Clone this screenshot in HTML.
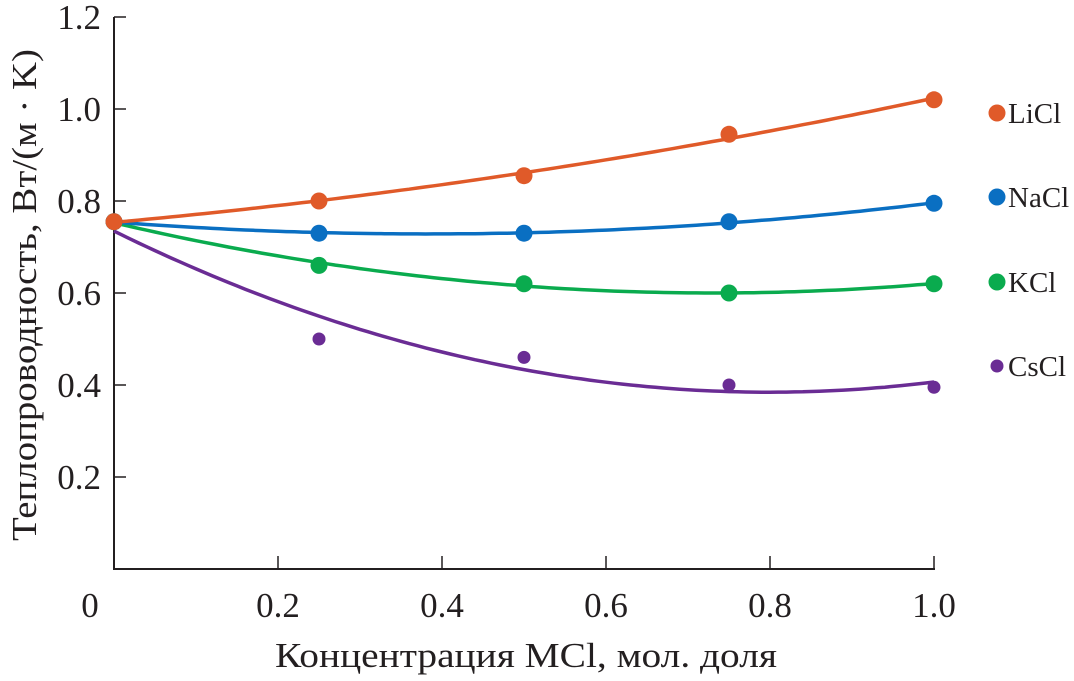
<!DOCTYPE html>
<html><head><meta charset="utf-8">
<style>
html,body{margin:0;padding:0;background:#fff;}
svg text{font-family:"Liberation Serif",serif;fill:#231f20;}
</style></head>
<body>
<svg id="chart" width="1074" height="676" viewBox="0 0 1074 676" xmlns="http://www.w3.org/2000/svg">
<g id="axes"></g>
<g id="curves"></g>
<g id="points"></g>
<g id="legend"></g>
<text x="275" y="667" font-size="35" textLength="502" lengthAdjust="spacingAndGlyphs">Концентрация MCl, мол. доля</text>
<text transform="translate(36,541) rotate(-90)" font-size="35" textLength="492" lengthAdjust="spacingAndGlyphs">Теплопроводность, Вт/(м · K)</text>
</svg>
<script>
const xCats = [0, 0.25, 0.5, 0.75, 1.0];
const seriesNames = ["LiCl", "NaCl", "KCl", "CsCl"];
const liclValues = [0.755, 0.80, 0.855, 0.945, 1.02];
const naclValues = [0.755, 0.73, 0.73, 0.755, 0.795];
const kclValues = [0.755, 0.66, 0.62, 0.60, 0.62];
const csclValues = [0.755, 0.50, 0.46, 0.40, 0.395];
const yTicks = [0.2, 0.4, 0.6, 0.8, 1.0, 1.2];
const xTicks = [0.2, 0.4, 0.6, 0.8, 1.0];
const xTickLabels = ["0.2", "0.4", "0.6", "0.8", "1.0"];
const yTickLabels = ["0.2", "0.4", "0.6", "0.8", "1.0", "1.2"];

const NS = "http://www.w3.org/2000/svg";
const X0 = 114, XW = 820, Y0 = 569;
const sx = v => X0 + v * XW;
const sy = v => Y0 - v / 0.2 * 92;
function mk(tag, attrs, parent) {
  const e = document.createElementNS(NS, tag);
  for (const k in attrs) e.setAttribute(k, attrs[k]);
  parent.appendChild(e);
  return e;
}
const axes = document.getElementById('axes');
let l = mk('line', {x1: X0, y1: Y0, x2: sx(1.0) + 1, y2: Y0, stroke: '#231f20', 'stroke-width': 2}, axes);


l = mk('line', {x1: X0, y1: sy(1.2), x2: X0, y2: Y0 + 1, stroke: '#231f20', 'stroke-width': 2}, axes);


xTicks.forEach((t, i) => {
  const tk = mk('line', {x1: sx(t), y1: Y0, x2: sx(t), y2: Y0 - 13, stroke: '#231f20', 'stroke-width': 1.5}, axes);
  
  
  const tx = mk('text', {x: sx(t), y: 617, 'text-anchor': 'middle', 'font-size': 35}, axes);
  tx.textContent = xTickLabels[i];
  
  
});
const z = mk('text', {x: 90, y: 617, 'text-anchor': 'middle', 'font-size': 35}, axes);
z.textContent = "0";


yTicks.forEach((t, i) => {
  const tk = mk('line', {x1: X0, y1: sy(t), x2: X0 + 12, y2: sy(t), stroke: '#231f20', 'stroke-width': 1.5}, axes);
  
  
  const tx = mk('text', {x: 101, y: sy(t) + 12, 'text-anchor': 'end', 'font-size': 35}, axes);
  tx.textContent = yTickLabels[i];
  
  
});

function quadFit(xs, ys) {
  let S = [0,0,0,0,0], T = [0,0,0];
  xs.forEach((x, i) => { for (let k = 0; k < 5; k++) S[k] += Math.pow(x, k); for (let k = 0; k < 3; k++) T[k] += ys[i] * Math.pow(x, k); });
  const A = [[S[0],S[1],S[2],T[0]],[S[1],S[2],S[3],T[1]],[S[2],S[3],S[4],T[2]]];
  for (let i = 0; i < 3; i++) { for (let j = i + 1; j < 3; j++) { const f = A[j][i] / A[i][i]; for (let k = i; k < 4; k++) A[j][k] -= f * A[i][k]; } }
  const c = [0,0,0];
  for (let i = 2; i >= 0; i--) { let s = A[i][3]; for (let k = i + 1; k < 3; k++) s -= A[i][k] * c[k]; c[i] = s / A[i][i]; }
  return x => c[0] + c[1] * x + c[2] * x * x;
}
const allSeries = [liclValues, naclValues, kclValues, csclValues];
const colors = ["#e05a29", "#0a6fc2", "#0aab4e", "#6a2c94"];
const radii = [8.5, 8.5, 8.5, 6.5];
const legendY = [113, 197, 282, 366];
const curves = document.getElementById('curves'), points = document.getElementById('points'), legend = document.getElementById('legend');
[3, 2, 1, 0].forEach(s => {
  const vals = allSeries[s];
  const f = quadFit(xCats, vals);
  let d = "";
  for (let i = 0; i <= 100; i++) { const x = i / 100; d += (i ? "L" : "M") + sx(x).toFixed(1) + "," + sy(f(x)).toFixed(1); }
  const p = mk('path', {d: d, fill: 'none', stroke: colors[s], 'stroke-width': 3.5}, curves);
  
  
  vals.forEach((v, i) => {
    const c = mk('circle', {cx: sx(xCats[i]), cy: sy(v), r: radii[s], fill: colors[s]}, points);
    
    
  });
});
allSeries.forEach((vals, s) => {
  const ld = mk('circle', {cx: 997, cy: legendY[s], r: radii[s], fill: colors[s]}, legend);
  
  
  const lt = mk('text', {x: 1008, y: legendY[s] + 10, 'font-size': 29}, legend);
  lt.textContent = seriesNames[s];
  
  
});
</script>
</body></html>
